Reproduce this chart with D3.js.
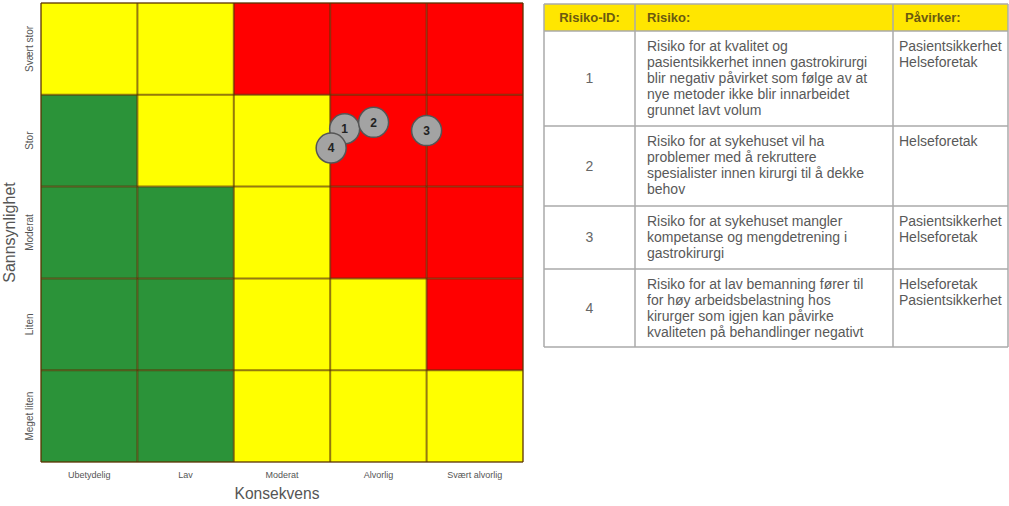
<!DOCTYPE html>
<html>
<head>
<meta charset="utf-8">
<script src="https://cdn.jsdelivr.net/npm/d3@7"></script>
<style>
  body { margin: 0; background: #fff; font-family: "Liberation Sans", Arial, sans-serif; }
</style>
</head>
<body>
<svg id="chart" width="1009" height="506"></svg>
<script>
// akser
const konsekvens = ["Ubetydelig", "Lav", "Moderat", "Alvorlig", "Svært alvorlig"];
const sannsynlighet = ["Meget liten", "Liten", "Moderat", "Stor", "Svært stor"];

// fargematrise, rad = sannsynlighet (nederst -> øverst), kolonne = konsekvens
const matrise = [
  ["G", "G", "Y", "Y", "Y"],
  ["G", "G", "Y", "Y", "R"],
  ["G", "G", "Y", "R", "R"],
  ["G", "Y", "Y", "R", "R"],
  ["Y", "Y", "R", "R", "R"]
];

// risikopunkter (konsekvens, sannsynlighet i akseenheter 0-5)
const risikoId = [1, 2, 3, 4];
const risikoKons = [3.15, 3.45, 4.0, 3.01];
const risikoSann = [3.63, 3.70, 3.61, 3.42];

// tabell
const risikoTekst = [
  ["Risiko for at kvalitet og", "pasientsikkerhet innen gastrokirurgi", "blir negativ påvirket som følge av at", "nye metoder ikke blir innarbeidet", "grunnet lavt volum"],
  ["Risiko for at sykehuset vil ha", "problemer med å rekruttere", "spesialister innen kirurgi til å dekke", "behov"],
  ["Risiko for at sykehuset mangler", "kompetanse og mengdetrening i", "gastrokirurgi"],
  ["Risiko for at lav bemanning fører til", "for høy arbeidsbelastning hos", "kirurger som igjen kan påvirke", "kvaliteten på behandlinger negativt"]
];
const pavirker = [
  ["Pasientsikkerhet", "Helseforetak"],
  ["Helseforetak"],
  ["Pasientsikkerhet", "Helseforetak"],
  ["Helseforetak", "Pasientsikkerhet"]
];
const kolonner = ["Risiko-ID:", "Risiko:", "Påvirker:"];

const farger = { G: "#2b9339", Y: "#ffff00", R: "#ff0000" };

const svg = d3.select("#chart");

// ---- risikomatrise ----
const gx0 = 41, gx1 = 523, gy0 = 3, gy1 = 462;
const xBand = d3.scaleBand().domain(konsekvens).range([gx0, gx1]);
const yBand = d3.scaleBand().domain(sannsynlighet).range([gy1, gy0]);
const xLin = d3.scaleLinear().domain([0, 5]).range([gx0, gx1]);
const yLin = d3.scaleLinear().domain([0, 5]).range([gy1, gy0]);

const celler = [];
matrise.forEach((rad, r) => rad.forEach((c, k) => celler.push({ r, k, c })));

svg.append("g").selectAll("rect")
  .data(celler)
  .enter().append("rect")
  .attr("x", d => xBand(konsekvens[d.k]))
  .attr("y", d => yBand(sannsynlighet[d.r]))
  .attr("width", xBand.bandwidth())
  .attr("height", yBand.bandwidth())
  .attr("fill", d => farger[d.c]);

// rutenett
const grid = svg.append("g").attr("stroke", "rgba(90,50,0,0.65)").attr("stroke-width", 2);
d3.range(6).forEach(i => {
  grid.append("line").attr("x1", xLin(i)).attr("x2", xLin(i)).attr("y1", gy0).attr("y2", gy1);
  grid.append("line").attr("y1", yLin(i)).attr("y2", yLin(i)).attr("x1", gx0).attr("x2", gx1);
});

// aksetekster
svg.append("g").selectAll("text")
  .data(konsekvens)
  .enter().append("text")
  .attr("x", d => xBand(d) + xBand.bandwidth() / 2)
  .attr("y", 478)
  .attr("text-anchor", "middle")
  .attr("font-size", 9)
  .attr("fill", "#555")
  .text(d => d);

svg.append("g").selectAll("text")
  .data(sannsynlighet)
  .enter().append("text")
  .attr("transform", d => `translate(33,${yBand(d) + yBand.bandwidth() / 2}) rotate(-90)`)
  .attr("text-anchor", "middle")
  .attr("font-size", 10)
  .attr("fill", "#555")
  .text(d => d);

svg.append("text")
  .attr("x", 277).attr("y", 499)
  .attr("text-anchor", "middle")
  .attr("font-size", 15.6)
  .attr("fill", "#555")
  .text("Konsekvens");

svg.append("text")
  .attr("transform", `translate(15,${(gy0 + gy1) / 2}) rotate(-90)`)
  .attr("text-anchor", "middle")
  .attr("font-size", 16)
  .attr("fill", "#555")
  .text("Sannsynlighet");

// punkter
const pkt = svg.append("g").selectAll("g")
  .data(risikoId)
  .enter().append("g")
  .attr("transform", (d, i) => `translate(${xLin(risikoKons[i])},${yLin(risikoSann[i])})`);
pkt.append("circle")
  .attr("r", 15)
  .attr("fill", "#a3a3a3")
  .attr("stroke", "#555")
  .attr("stroke-width", 1.5);
pkt.append("text")
  .attr("text-anchor", "middle")
  .attr("dy", "0.35em")
  .attr("font-size", 12)
  .attr("font-weight", "bold")
  .attr("fill", "#222")
  .text(d => d);

// ---- tabell ----
const colX = [544, 635, 893, 1008];
const rowY = [4, 31, 126, 206, 269, 347];
const tab = svg.append("g");

tab.append("rect")
  .attr("x", colX[0]).attr("y", rowY[0])
  .attr("width", colX[3] - colX[0]).attr("height", rowY[1] - rowY[0])
  .attr("fill", "#ffe600");

kolonner.forEach((k, i) => {
  tab.append("text")
    .attr("x", i === 0 ? (colX[0] + colX[1]) / 2 : colX[i] + 12)
    .attr("y", (rowY[0] + rowY[1]) / 2)
    .attr("dy", "0.35em")
    .attr("text-anchor", i === 0 ? "middle" : "start")
    .attr("font-size", 13)
    .attr("font-weight", "bold")
    .attr("fill", "#6b5a10")
    .text(k);
});

risikoId.forEach((id, i) => {
  const y0 = rowY[i + 1], y1 = rowY[i + 2];
  tab.append("text")
    .attr("x", (colX[0] + colX[1]) / 2)
    .attr("y", (y0 + y1) / 2)
    .attr("dy", "0.35em")
    .attr("text-anchor", "middle")
    .attr("font-size", 14)
    .attr("fill", "#666")
    .text(id);
  risikoTekst[i].forEach((l, j) => {
    tab.append("text")
      .attr("x", colX[1] + 12).attr("y", y0 + 20 + j * 16)
      .attr("font-size", 14).attr("fill", "#595959")
      .text(l);
  });
  pavirker[i].forEach((l, j) => {
    tab.append("text")
      .attr("x", colX[2] + 6).attr("y", y0 + 20 + j * 16)
      .attr("font-size", 14).attr("fill", "#595959")
      .text(l);
  });
});

const linjer = tab.append("g").attr("stroke", "#aaa").attr("stroke-width", 1.5);
rowY.forEach(y => linjer.append("line").attr("x1", colX[0]).attr("x2", colX[3]).attr("y1", y).attr("y2", y));
colX.forEach(x => linjer.append("line").attr("x1", x).attr("x2", x).attr("y1", rowY[0]).attr("y2", rowY[rowY.length - 1]));
</script>
</body>
</html>
